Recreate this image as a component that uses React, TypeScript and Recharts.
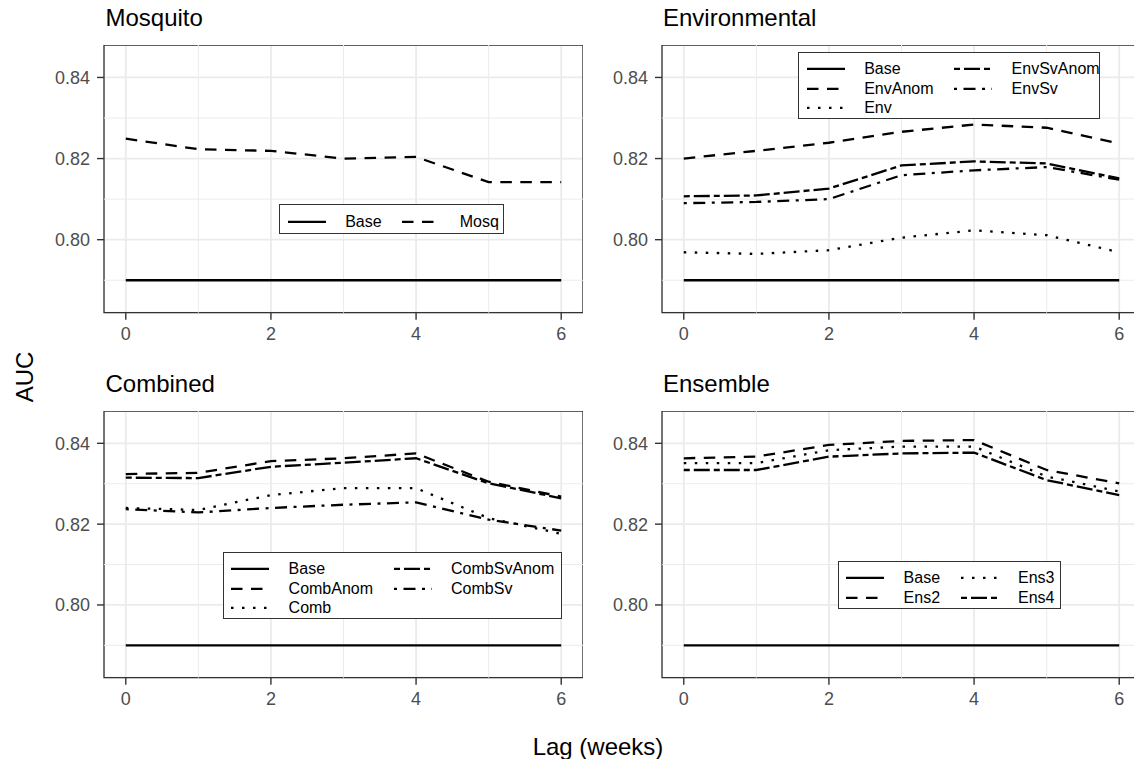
import { LineChart, Line, XAxis, YAxis, CartesianGrid, ReferenceLine, ReferenceArea } from "recharts";

const lags = [0, 1, 2, 3, 4, 5, 6];
const xTicks = [0, 2, 4, 6];
const xMinor = [1, 3, 5];
const yTicks = [0.8, 0.82, 0.84];
const yMinor = [0.79, 0.81, 0.83];

const base = [0.79, 0.79, 0.79, 0.79, 0.79, 0.79, 0.79];
const mosq = [0.8249, 0.8223, 0.8219, 0.82, 0.8204, 0.8142, 0.8142];
const envAnom = [0.82, 0.8219, 0.8239, 0.8266, 0.8284, 0.8276, 0.8237];
const env = [0.7969, 0.7965, 0.7974, 0.8005, 0.8023, 0.8011, 0.7969];
const envSvAnom = [0.8107, 0.8109, 0.8126, 0.8183, 0.8193, 0.8188, 0.8151];
const envSv = [0.809, 0.8093, 0.81, 0.8159, 0.8171, 0.8179, 0.8148];
const combAnom = [0.8324, 0.8327, 0.8356, 0.8363, 0.8375, 0.8305, 0.8268];
const comb = [0.824, 0.8235, 0.8272, 0.8289, 0.8289, 0.8215, 0.8176];
const combSvAnom = [0.8315, 0.8314, 0.8342, 0.8352, 0.8363, 0.8301, 0.8264];
const combSv = [0.8237, 0.8229, 0.824, 0.8248, 0.8254, 0.8211, 0.8184];
const ens2 = [0.8363, 0.8367, 0.8396, 0.8406, 0.8408, 0.8334, 0.8301];
const ens3 = [0.8351, 0.8351, 0.8383, 0.8392, 0.8392, 0.8318, 0.8281];
const ens4 = [0.8334, 0.8334, 0.8367, 0.8375, 0.8377, 0.8309, 0.8272];

const FONT = "'Liberation Sans', Arial, sans-serif";
const X_DOM = [-0.3, 6.3];
const Y_DOM = [0.782, 0.848];
const Y_W = 100;
const X_H = 40;
const PLOT_W = 479;

// ggplot linetypes, scaled to this render
const dash: Record<string, string | undefined> = {
  solid: undefined,
  dashed: "11.5 8.5",
  dotted: "2.5 8.5",
  dotdash: "3 6.5 12 6.5",
  twodash: "6 4 16 4",
};

type Series = { name: string; values: number[]; kind: string };

const panels = [
  {
    title: "Mosquito", left: 104.3, top: 45, h: 267.7,
    series: [
      { name: "Base", values: base, kind: "solid" },
      { name: "Mosq", values: mosq, kind: "dashed" },
    ],
    legend: { left: 279.3, top: 204.3, w: 225, h: 29.7, cols: [["Base"], ["Mosq"]] },
  },
  {
    title: "Environmental", left: 662.3, top: 45, h: 267.7,
    series: [
      { name: "Base", values: base, kind: "solid" },
      { name: "EnvAnom", values: envAnom, kind: "dashed" },
      { name: "Env", values: env, kind: "dotted" },
      { name: "EnvSvAnom", values: envSvAnom, kind: "twodash" },
      { name: "EnvSv", values: envSv, kind: "dotdash" },
    ],
    legend: { left: 798.3, top: 51.7, w: 301.7, h: 67.3, cols: [["Base", "EnvAnom", "Env"], ["EnvSvAnom", "EnvSv"]] },
  },
  {
    title: "Combined", left: 104.3, top: 411, h: 266.7,
    series: [
      { name: "Base", values: base, kind: "solid" },
      { name: "CombAnom", values: combAnom, kind: "dashed" },
      { name: "Comb", values: comb, kind: "dotted" },
      { name: "CombSvAnom", values: combSvAnom, kind: "twodash" },
      { name: "CombSv", values: combSv, kind: "dotdash" },
    ],
    legend: { left: 222.7, top: 551.7, w: 339.3, h: 67.3, cols: [["Base", "CombAnom", "Comb"], ["CombSvAnom", "CombSv"]] },
  },
  {
    title: "Ensemble", left: 662.3, top: 411, h: 266.7,
    series: [
      { name: "Base", values: base, kind: "solid" },
      { name: "Ens2", values: ens2, kind: "dashed" },
      { name: "Ens3", values: ens3, kind: "dotted" },
      { name: "Ens4", values: ens4, kind: "twodash" },
    ],
    legend: { left: 837.7, top: 561, w: 223.3, h: 48.3, cols: [["Base", "Ens2"], ["Ens3", "Ens4"]] },
  },
];

function LegendBox({ legend, series }: { legend: any; series: Series[] }) {
  const kindOf = (n: string) => series.find((s) => s.name === n)!.kind;
  return (
    <div style={{
      position: "absolute", left: legend.left, top: legend.top, width: legend.w, height: legend.h,
      boxSizing: "border-box", border: "1px solid #333", background: "#fff",
      display: "flex", padding: "6.4px 0 0 7.4px", gap: 20.5,
    }}>
      {legend.cols.map((col: string[], i: number) => (
        <div key={i} style={{ display: "flex", flexDirection: "column" }}>
          {col.map((n) => (
            <div key={n} style={{ display: "flex", alignItems: "center", height: 19.7 }}>
              <svg width={38} height={19.7} style={{ display: "block" }}>
                <line x1={0} x2={38} y1={9.85} y2={9.85} stroke="#000" strokeWidth={2.3} strokeDasharray={dash[kindOf(n)]} />
              </svg>
              <span style={{ marginLeft: 19.5, fontSize: 16, lineHeight: "19.7px", color: "#000", whiteSpace: "nowrap" }}>{n}</span>
            </div>
          ))}
        </div>
      ))}
    </div>
  );
}

function Panel({ p }: { p: (typeof panels)[number] }) {
  const rows = lags.map((lag, i) => {
    const r: any = { lag };
    p.series.forEach((s) => (r[s.name] = s.values[i]));
    return r;
  });
  const tickStyle = { fill: "#4D4D4D", fontSize: 18, fontFamily: FONT };
  const tickLine = { stroke: "#333", strokeWidth: 1.4 };
  return (
    <div style={{ position: "absolute", left: p.left - Y_W, top: p.top }}>
      <LineChart width={Y_W + PLOT_W} height={p.h + X_H} data={rows} margin={{ top: 0, right: 0, bottom: 0, left: 0 }}>
        {xMinor.map((v) => <ReferenceLine key={"x" + v} x={v} stroke="#EBEBEB" strokeWidth={1} />)}
        {yMinor.map((v) => <ReferenceLine key={"y" + v} y={v} stroke="#EBEBEB" strokeWidth={1} />)}
        <CartesianGrid stroke="#EBEBEB" strokeWidth={1.8} />
        <XAxis dataKey="lag" type="number" domain={X_DOM} allowDataOverflow ticks={xTicks} interval={0}
          height={X_H} tickSize={7} tickMargin={8} axisLine={false} tickLine={tickLine} tick={tickStyle} />
        <YAxis type="number" domain={Y_DOM} allowDataOverflow ticks={yTicks} interval={0}
          width={Y_W} tickSize={7} tickMargin={7} axisLine={false} tickLine={tickLine} tick={tickStyle}
          tickFormatter={(v: number) => v.toFixed(2)} />
        {p.series.map((s) => (
          <Line key={s.name} dataKey={s.name} type="linear" stroke="#000" strokeWidth={2.3}
            strokeDasharray={dash[s.kind]} dot={false} activeDot={false} isAnimationActive={false} />
        ))}
        <ReferenceArea x1={X_DOM[0]} x2={X_DOM[1]} y1={Y_DOM[0]} y2={Y_DOM[1]} fill="none" stroke="#333" strokeWidth={1.3} />
      </LineChart>
    </div>
  );
}

export default function App() {
  return (
    <div style={{ position: "absolute", left: 0, top: 0, width: 1134, height: 759, overflow: "hidden", background: "#fff", fontFamily: FONT }}>
      <svg width={1134} height={759} style={{ position: "absolute", left: 0, top: 0 }}>
        <g fontFamily={FONT} fontSize={24} fill="#000">
          <text x={105.5} y={26}>Mosquito</text>
          <text x={663} y={26}>Environmental</text>
          <text x={105.5} y={392}>Combined</text>
          <text x={663} y={392}>Ensemble</text>
          <text x={598} y={755} textAnchor="middle">Lag (weeks)</text>
          <text transform="translate(33,377) rotate(-90)" textAnchor="middle">AUC</text>
        </g>
      </svg>
      {panels.map((p) => <Panel key={p.title} p={p} />)}
      {panels.map((p) => <LegendBox key={p.title + "-lg"} legend={p.legend} series={p.series} />)}
    </div>
  );
}
